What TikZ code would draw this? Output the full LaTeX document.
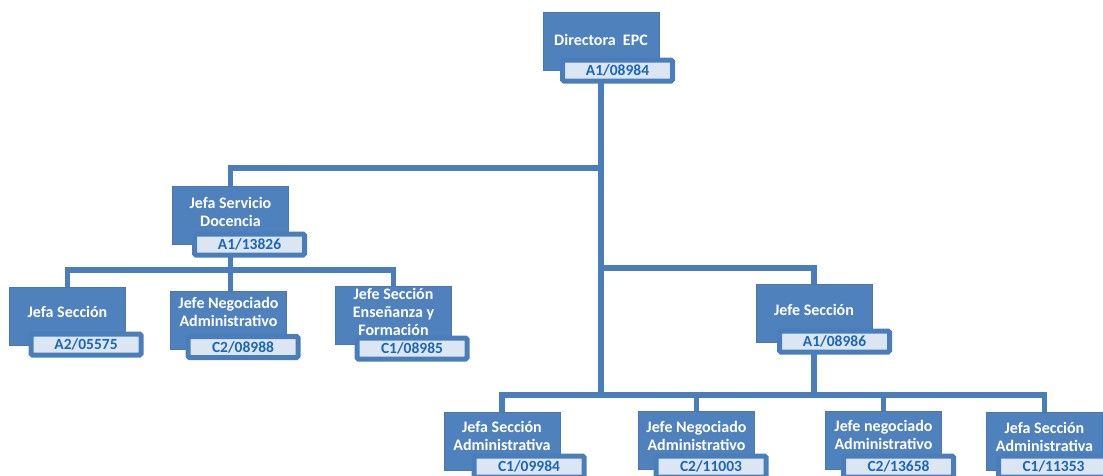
\documentclass[tikz,border=0pt]{standalone}
\usepackage{fontspec}
\setmainfont{Carlito}
\definecolor{boxblue}{HTML}{4F81BD}
\definecolor{linkblue}{HTML}{4A7EBB}
\definecolor{codefill}{HTML}{DCE6F2}
\definecolor{codetext}{HTML}{1A66B8}
\begin{document}
\begin{tikzpicture}[x=1pt,y=-1pt,
  mainbox/.style={fill=boxblue, draw=boxblue!92!black, line width=0.6pt,
    minimum width=115pt, minimum height=57pt, inner sep=0pt},
  maintext/.style={text=white, font=\bfseries\fontsize{16}{18}\selectfont,
    align=center, inner sep=0pt},
  codebox/.style={fill=codefill, draw=linkblue, line width=5pt, rounded corners=1.5pt,
    minimum width=110pt, minimum height=21pt, inner sep=0pt, text=codetext,
    font=\bfseries\fontsize{15.5}{17}\selectfont},
  conn/.style={draw=linkblue, line width=5.5pt}
]
\useasboundingbox (0,0) rectangle (1103,475);
\clip (0,0) rectangle (1103,475);

% bus coordinates
\coordinate (hbusA) at (0,168);
\coordinate (hbusB) at (0,268);
\coordinate (lbus)  at (0,270);
\coordinate (bbus)  at (0,395);

% main boxes
\node[mainbox] (dir) at (601,41.5) {};
\node[mainbox] (jsd) at (230.5,215.5) {};
\node[mainbox] (ljs) at (67.5,316) {};
\node[mainbox] (jna) at (228.5,320.5) {};
\node[mainbox] (ens) at (393.5,315.5) {};
\node[mainbox] (js)  at (814,313.5) {};
\node[mainbox] (ba)  at (502,441.5) {};
\node[mainbox] (bb)  at (696.5,440.5) {};
\node[mainbox] (bc)  at (883.5,440.5) {};
\node[mainbox] (bd)  at (1044.5,441.5) {};

% connectors
\draw[conn] (dir.south) -- (dir.south |- bbus);
\draw[conn] (dir.south |- hbusA) -| (jsd.north);
\draw[conn] (dir.south |- hbusB) -| (js.north);
\draw[conn] (jsd.south) -- (jsd.south |- lbus);
\draw[conn] (ljs.north) -- (ljs.north |- lbus) -- (ens.north |- lbus) -- (ens.north);
\draw[conn] (jsd.south |- lbus) -- (jsd.south |- jna.north);
\draw[conn] (js.south) -- (js.south |- bbus);
\draw[conn] (ba.north) -- (ba.north |- bbus) -- (bd.north |- bbus) -- (bd.north);
\draw[conn] (bb.north) -- (bb.north |- bbus);
\draw[conn] (bc.north) -- (bc.north |- bbus);

% redraw main box fills over connector ends
\foreach \n in {dir,jsd,ljs,jna,ens,js,ba,bb,bc,bd}{
  \fill[boxblue] (\n.north west) rectangle (\n.south east);
  \draw[boxblue!92!black, line width=0.6pt] (\n.north west) rectangle (\n.south east);
}

% texts
\node[maintext] (tdir) at (601,40) {Directora\ \ EPC};
\node[maintext] (tjsd) at (230.5,212) {Jefa Servicio\\Docencia};
\node[maintext] (tljs) at (67.5,312) {Jefa Sección};
\node[maintext] (tjna) at (228.5,312) {Jefe Negociado\\Administrativo};
\node[maintext] (tens) at (393.5,312) {Jefe Sección\\Enseñanza y\\Formación};
\node[maintext] (tjs)  at (814,310) {Jefe Sección};
\node[maintext] (tba)  at (502,436) {Jefa Sección\\Administrativa};
\node[maintext] (tbb)  at (696.5,435.5) {Jefe Negociado\\Administrativo};
\node[maintext] (tbc)  at (883.5,434.5) {Jefe negociado\\Administrativo};
\node[maintext] (tbd)  at (1044.5,436.5) {Jefa Sección\\Administrativa};

% code boxes
\node[codebox] (dirc) at (617.5,70.5) {A1/08984};
\node[codebox] (jsdc) at (249.5,244.5) {A1/13826};
\node[codebox] (ljsc) at (86,344.5) {A2/05575};
\node[codebox] (jnac) at (243,347) {C2/08988};
\node[codebox] (ensc) at (412,348.5) {C1/08985};
\node[codebox] (jsc)  at (834.5,341.5) {A1/08986};
\node[codebox] (bac)  at (529,466.5) {C1/09984};
\node[codebox] (bbc)  at (711,466.5) {C2/11003};
\node[codebox] (bcc)  at (898.5,466.5) {C2/13658};
\node[codebox] (bdc)  at (1053.5,466.5) {C1/11353};
\end{tikzpicture}
\end{document}
